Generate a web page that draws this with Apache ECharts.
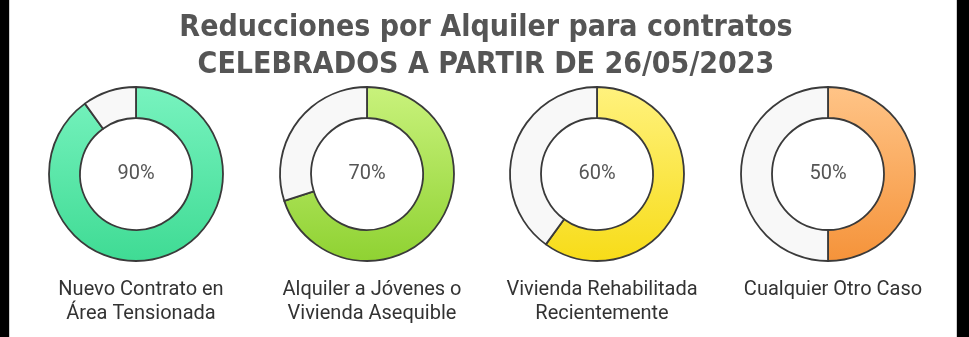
<!DOCTYPE html>
<html>
<head>
<meta charset="utf-8">
<script src="https://cdn.jsdelivr.net/npm/echarts@6/dist/echarts.min.js"></script>
<style>
html,body{margin:0;padding:0;background:#fff;}
#chart{width:969px;height:337px;}
</style>
</head>
<body>
<div id="chart"></div>
<script>
const titleLines = ['Reducciones por Alquiler para contratos', 'CELEBRADOS A PARTIR DE 26/05/2023'];
const categories = ['Nuevo Contrato en\nÁrea Tensionada', 'Alquiler a Jóvenes o\nVivienda Asequible', 'Vivienda Rehabilitada\nRecientemente', 'Cualquier Otro Caso'];
const values = [90, 70, 60, 50];
const colorsTop = ['#78f3bf', '#c9f27c', '#fff27e', '#ffc487'];
const colorsBottom = ['#3fdb94', '#8fd232', '#f7dc18', '#f5933a'];

const chart = echarts.init(document.getElementById('chart'), null, {renderer: 'canvas'});
const centersX = [136, 367, 597, 828];
const cy = 174;
const series = values.map((v, i) => ({
  type: 'pie',
  center: [centersX[i], cy],
  radius: [56, 87],
  startAngle: 90,
  clockwise: true,
  silent: true,
  label: {show: false},
  labelLine: {show: false},
  itemStyle: {borderColor: '#3a3a3a', borderWidth: 1.8},
  data: [
    {value: v, name: categories[i],
     itemStyle: {color: new echarts.graphic.LinearGradient(0, 0, 0, 1, [{offset: 0, color: colorsTop[i]}, {offset: 1, color: colorsBottom[i]}])},
     label: {show: true, position: 'center', formatter: v + '%', fontSize: 20, color: '#555', fontFamily: 'Roboto'}},
    {value: 100 - v, name: 'resto', itemStyle: {color: '#f8f8f8'}, label: {show: false}}
  ]
}));

const titles = [{
  text: titleLines.join('\n'),
  left: 481, top: 5, textAlign: 'center',
  textStyle: {fontSize: 30, fontWeight: 'bold', color: '#555', lineHeight: 37, fontFamily: "'Liberation Sans Narrow', 'DejaVu Sans Condensed', Roboto"}
}].concat(categories.map((c, i) => ({
  text: c, left: centersX[i], top: 273, textAlign: 'center',
  textStyle: {fontSize: 20, fontWeight: 'normal', color: '#333', lineHeight: 24, fontFamily: 'Roboto'}
})));

chart.setOption({
  backgroundColor: '#ffffff',
  animation: false,
  title: titles,
  graphic: [
    {type: 'rect', shape: {x: 0, y: 0, width: 9, height: 337}, style: {fill: '#000'}},
    {type: 'rect', shape: {x: 9, y: 0, width: 1, height: 337}, style: {fill: '#d0d0d0'}},
    {type: 'rect', shape: {x: 957, y: 0, width: 12, height: 337}, style: {fill: '#000'}},
    {type: 'rect', shape: {x: 956, y: 0, width: 1, height: 337}, style: {fill: '#d0d0d0'}}
  ],
  series: series
});
</script>
</body>
</html>
